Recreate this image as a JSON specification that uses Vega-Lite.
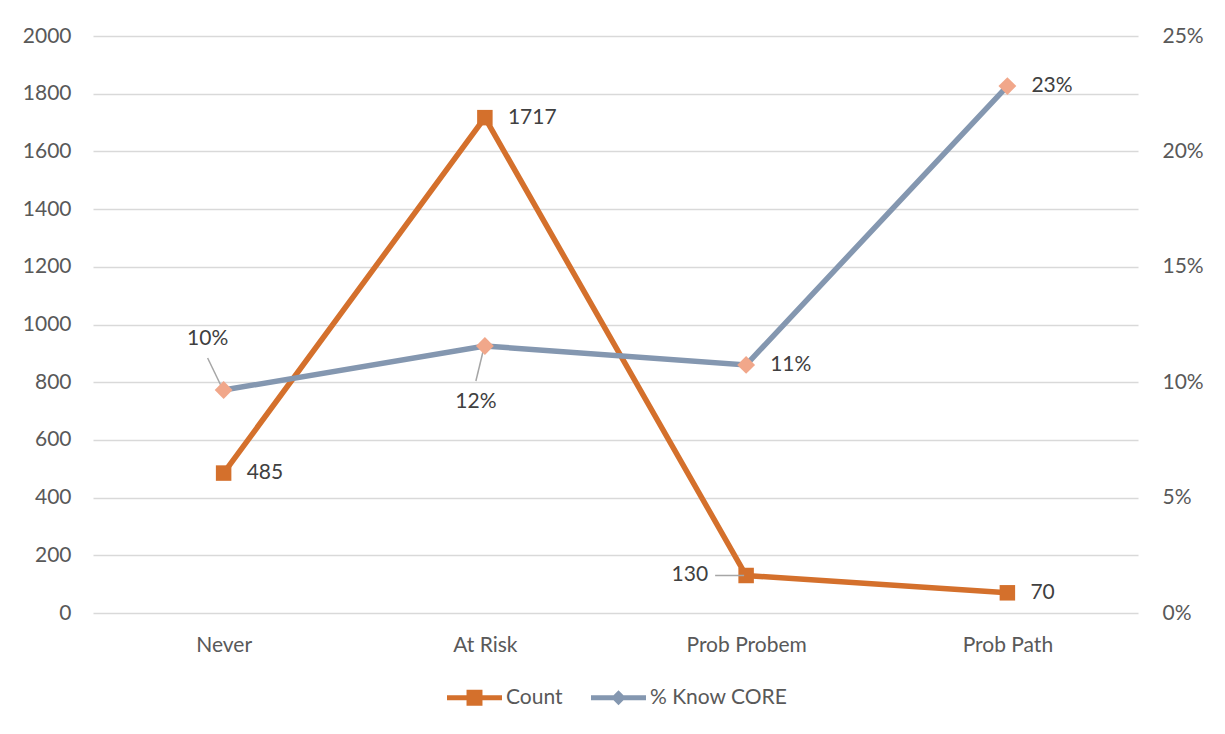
{
  "$schema": "https://vega.github.io/schema/vega-lite/v6.json",
  "width": 1045,
  "height": 577,
  "autosize": {"type": "none"},
  "padding": {"left": 93, "top": 36, "right": 87, "bottom": 121},
  "background": "white",
  "config": {
    "view": {"stroke": null},
    "font": "Lato",
    "axis": {"labelFont": "Lato", "labelFontSize": 21, "labelColor": "#595959", "domain": false, "ticks": false, "title": null},
    "legend": {"labelFont": "Lato", "labelFontSize": 21, "labelColor": "#595959"}
  },
  "data": {
    "values": [
      {"cat": "Never", "count": 485, "pct": 0.0966},
      {"cat": "At Risk", "count": 1717, "pct": 0.1157},
      {"cat": "Prob Probem", "count": 130, "pct": 0.1075},
      {"cat": "Prob Path", "count": 70, "pct": 0.2283}
    ]
  },
  "encoding": {
    "x": {"field": "cat", "type": "nominal", "sort": null, "scale": {"type": "point", "padding": 0.5},
      "axis": {"labelAngle": 0, "labelPadding": 21, "grid": false}}
  },
  "layer": [
    {
      "layer": [
        {
          "mark": {"type": "line", "strokeWidth": 5.5},
          "encoding": {
            "y": {"field": "count", "type": "quantitative", "scale": {"domain": [0, 2000], "nice": false},
              "axis": {"values": [0, 200, 400, 600, 800, 1000, 1200, 1400, 1600, 1800, 2000], "format": "d", "grid": true, "gridColor": "#D9D9D9", "gridWidth": 1.5, "labelPadding": 22, "orient": "left"}},
            "color": {"datum": "Count", "type": "nominal",
              "scale": {"domain": ["Count", "% Know CORE"], "range": ["#D4702C", "#8497B0"]},
              "legend": {"orient": "none", "legendX": 354, "legendY": 634, "direction": "horizontal", "title": null,
                "symbolType": "M-1,-0.09H1V0.09H-1Z M-0.29,-0.29H0.29V0.29H-0.29Z",
                "symbolSize": 3025, "symbolStrokeWidth": 0, "labelOffset": 4, "columnPadding": 28,
                "encode": {"symbols": {"update": {
                  "fill": {"scale": "color", "field": "value"},
                  "shape": {"signal": "datum.value === 'Count' ? 'M-1,-0.09H1V0.09H-1Z M-0.29,-0.29H0.29V0.29H-0.29Z' : 'M-1,-0.09H1V0.09H-1Z M-0.27,0L0,-0.27L0.27,0L0,0.27Z'"}
                }}}}}
          }
        },
        {
          "mark": {"type": "point", "shape": "square", "filled": true, "size": 240, "opacity": 1, "color": "#D4702C"},
          "encoding": {"y": {"field": "count", "type": "quantitative"}}
        },
        {
          "transform": [{"filter": "datum.cat !== 'Prob Probem'"}],
          "mark": {"type": "text", "align": "left", "baseline": "middle", "dx": 23, "fontSize": 21, "color": "#404040"},
          "encoding": {"y": {"field": "count", "type": "quantitative"}, "text": {"field": "count", "type": "quantitative"}}
        },
        {
          "transform": [{"filter": "datum.cat === 'Prob Probem'"}],
          "mark": {"type": "text", "align": "right", "baseline": "middle", "dx": -38, "fontSize": 21, "color": "#404040"},
          "encoding": {"y": {"field": "count", "type": "quantitative"}, "text": {"field": "count", "type": "quantitative"}}
        },
        {
          "transform": [{"filter": "datum.cat === 'Prob Probem'"}],
          "mark": {"type": "rule", "color": "#A6A6A6", "strokeWidth": 1.5, "xOffset": -31, "x2Offset": -2},
          "encoding": {"y": {"field": "count", "type": "quantitative"}, "x2": {"field": "cat"}, "y2": {"field": "count"}}
        }
      ]
    },
    {
      "layer": [
        {
          "mark": {"type": "line", "strokeWidth": 5.5},
          "encoding": {
            "y": {"field": "pct", "type": "quantitative", "scale": {"domain": [0, 0.25], "nice": false},
              "axis": {"orient": "right", "values": [0, 0.05, 0.1, 0.15, 0.2, 0.25], "format": ".0%", "grid": false, "labelPadding": 24}},
            "color": {"datum": "% Know CORE", "type": "nominal"}
          }
        },
        {
          "transform": [{"filter": "datum.cat === 'Never'"}],
          "mark": {"type": "rule", "color": "#A6A6A6", "strokeWidth": 1.5, "xOffset": -16, "yOffset": -32, "x2Offset": -2, "y2Offset": -3},
          "encoding": {"y": {"field": "pct", "type": "quantitative"}, "x2": {"field": "cat"}, "y2": {"field": "pct"}}
        },
        {
          "transform": [{"filter": "datum.cat === 'At Risk'"}],
          "mark": {"type": "rule", "color": "#A6A6A6", "strokeWidth": 1.5, "xOffset": -1, "yOffset": 2, "x2Offset": -9, "y2Offset": 35},
          "encoding": {"y": {"field": "pct", "type": "quantitative"}, "x2": {"field": "cat"}, "y2": {"field": "pct"}}
        },
        {
          "mark": {"type": "point", "shape": "diamond", "filled": true, "size": 320, "opacity": 1, "color": "#F1A78A"},
          "encoding": {"y": {"field": "pct", "type": "quantitative"}}
        },
        {
          "transform": [{"filter": "datum.cat === 'Prob Probem' || datum.cat === 'Prob Path'"}],
          "mark": {"type": "text", "align": "left", "baseline": "middle", "dx": 24, "fontSize": 21, "color": "#404040"},
          "encoding": {"y": {"field": "pct", "type": "quantitative"}, "text": {"field": "pct", "type": "quantitative", "format": ".0%"}}
        },
        {
          "transform": [{"filter": "datum.cat === 'Never'"}],
          "mark": {"type": "text", "align": "center", "baseline": "middle", "dx": -16, "dy": -51, "fontSize": 21, "color": "#404040"},
          "encoding": {"y": {"field": "pct", "type": "quantitative"}, "text": {"field": "pct", "type": "quantitative", "format": ".0%"}}
        },
        {
          "transform": [{"filter": "datum.cat === 'At Risk'"}],
          "mark": {"type": "text", "align": "center", "baseline": "middle", "dx": -9, "dy": 56, "fontSize": 21, "color": "#404040"},
          "encoding": {"y": {"field": "pct", "type": "quantitative"}, "text": {"field": "pct", "type": "quantitative", "format": ".0%"}}
        }
      ]
    }
  ],
  "resolve": {"scale": {"y": "independent"}}
}
